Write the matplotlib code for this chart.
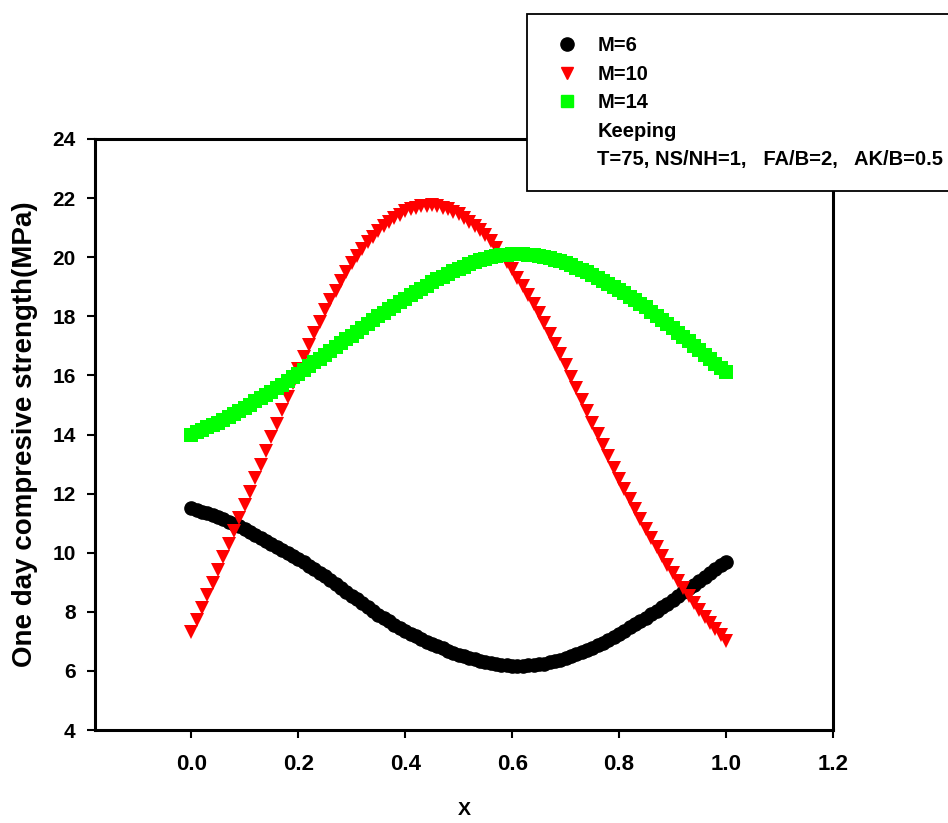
import numpy as np
import matplotlib
matplotlib.use("Agg")
import matplotlib.pyplot as plt
from matplotlib.lines import Line2D

plt.rcParams['font.family'] = ['Liberation Sans', 'DejaVu Sans']
plt.rcParams['font.weight'] = 'bold'

# X sampling grid (0 to 1, step 0.01)
x = np.linspace(0, 1, 101)

# M=6 (black circles)
m6 = [11.50, 11.45, 11.39, 11.33, 11.27, 11.20, 11.13, 11.05, 10.97, 10.89,
      10.80, 10.70, 10.60, 10.50, 10.40, 10.30, 10.20, 10.10, 10.00, 9.90,
      9.80, 9.68, 9.56, 9.44, 9.32, 9.20, 9.07, 8.94, 8.81, 8.68,
      8.55, 8.42, 8.29, 8.16, 8.03, 7.90, 7.79, 7.68, 7.57, 7.46,
      7.35, 7.26, 7.17, 7.08, 6.99, 6.90, 6.83, 6.76, 6.69, 6.62,
      6.55, 6.50, 6.45, 6.40, 6.35, 6.30, 6.27, 6.24, 6.21, 6.19,
      6.18, 6.18, 6.18, 6.19, 6.20, 6.22, 6.25, 6.29, 6.33, 6.37,
      6.42, 6.49, 6.56, 6.63, 6.70, 6.78, 6.87, 6.96, 7.06, 7.15,
      7.25, 7.36, 7.47, 7.58, 7.69, 7.80, 7.92, 8.04, 8.16, 8.28,
      8.40, 8.53, 8.66, 8.79, 8.92, 9.05, 9.18, 9.31, 9.44, 9.57,
      9.70]

# M=10 (red triangles)
m10 = [7.30, 7.72, 8.14, 8.56, 8.98, 9.40, 9.84, 10.28, 10.72, 11.16,
       11.60, 12.06, 12.52, 12.98, 13.44, 13.90, 14.36, 14.82, 15.28, 15.74,
       16.20, 16.62, 17.03, 17.43, 17.82, 18.20, 18.54, 18.87, 19.19, 19.50,
       19.80, 20.05, 20.28, 20.50, 20.70, 20.90, 21.05, 21.18, 21.32, 21.44,
       21.55, 21.62, 21.68, 21.72, 21.74, 21.75, 21.73, 21.68, 21.62, 21.54,
       21.45, 21.33, 21.20, 21.06, 20.91, 20.75, 20.54, 20.32, 20.09, 19.85,
       19.60, 19.31, 19.01, 18.71, 18.41, 18.10, 17.76, 17.41, 17.06, 16.71,
       16.35, 15.96, 15.57, 15.18, 14.79, 14.40, 14.02, 13.64, 13.26, 12.88,
       12.50, 12.16, 11.82, 11.48, 11.14, 10.80, 10.50, 10.20, 9.90, 9.60,
       9.30, 9.05, 8.80, 8.55, 8.30, 8.05, 7.84, 7.63, 7.42, 7.21,
       7.00]

# M=14 (green squares)
m14 = [14.00, 14.08, 14.16, 14.24, 14.32, 14.40, 14.50, 14.60, 14.70, 14.80,
       14.90, 15.01, 15.12, 15.23, 15.34, 15.45, 15.57, 15.69, 15.81, 15.93,
       16.05, 16.18, 16.31, 16.44, 16.57, 16.70, 16.83, 16.96, 17.09, 17.22,
       17.35, 17.48, 17.61, 17.74, 17.87, 18.00, 18.12, 18.24, 18.36, 18.48,
       18.60, 18.71, 18.82, 18.93, 19.04, 19.15, 19.25, 19.34, 19.43, 19.52,
       19.60, 19.68, 19.76, 19.83, 19.89, 19.95, 19.99, 20.03, 20.06, 20.08,
       20.10, 20.10, 20.10, 20.09, 20.07, 20.05, 20.01, 19.96, 19.91, 19.86,
       19.80, 19.73, 19.65, 19.57, 19.49, 19.40, 19.30, 19.20, 19.10, 19.00,
       18.90, 18.78, 18.66, 18.54, 18.42, 18.30, 18.16, 18.02, 17.88, 17.74,
       17.60, 17.45, 17.30, 17.15, 17.00, 16.85, 16.70, 16.55, 16.40, 16.25,
       16.10]

labels = ['M=6', 'M=10', 'M=14']
note1 = 'Keeping'
note2 = 'T=75, NS/NH=1,   FA/B=2,   AK/B=0.5'

xticks = [0.0, 0.2, 0.4, 0.6, 0.8, 1.0, 1.2]
yticks = [4, 6, 8, 10, 12, 14, 16, 18, 20, 22, 24]

narrow = ['Liberation Sans Narrow', 'Liberation Sans', 'DejaVu Sans']

fig = plt.figure(figsize=(9.48, 8.23), dpi=100)
ax = fig.add_axes([95/948, 1 - 730/823, (833 - 95)/948, (730 - 139)/823])

ax.plot(x, m6, 'o', color='black', ms=9.5, mec='black', label=labels[0])
ax.plot(x, m10, 'v', color='red', ms=9.5, mec='red', mew=0, label=labels[1])
ax.plot(x, m14, 's', color='#00ff00', ms=9.5, mec='#00ff00', mew=0, label=labels[2])

ax.set_xlim(-0.18, 1.2)
ax.set_ylim(4, 24)
ax.set_xticks(xticks)
ax.set_xticklabels([f'{t:.1f}' for t in xticks], family=narrow, fontsize=16, fontweight='bold')
ax.set_yticks(yticks)
ax.set_yticklabels([str(t) for t in yticks], fontsize=15, fontweight='bold')
ax.tick_params(axis='x', direction='out', length=6, width=1.5, pad=11)
ax.tick_params(axis='y', direction='out', length=6, width=1.5, pad=8)
for sp in ax.spines.values():
    sp.set_linewidth(2.2)

ax.set_xlabel('X', family=narrow, fontsize=14, fontweight='bold', labelpad=20)
ax.set_ylabel('One day compresive strength(MPa)', fontsize=20, fontweight='bold', labelpad=10)

handles = [Line2D([], [], ls='none', marker='o', color='black', ms=9.5),
           Line2D([], [], ls='none', marker='v', color='red', ms=9),
           Line2D([], [], ls='none', marker='s', color='#00ff00', ms=9)]
handles += [Line2D([], [], ls='none'), Line2D([], [], ls='none')]
leg = fig.legend(handles, labels + [note1, note2], loc='upper left',
                 bbox_to_anchor=(527/948, 1 - 14/823), numpoints=1,
                 prop={'size': 14.5, 'weight': 'bold'}, fancybox=False,
                 edgecolor='black', framealpha=1, borderpad=1.1,
                 borderaxespad=0, labelspacing=0.47, handlelength=1.8,
                 handletextpad=0.6)
leg.get_frame().set_linewidth(1.3)

fig.savefig('out.png', dpi=100)
